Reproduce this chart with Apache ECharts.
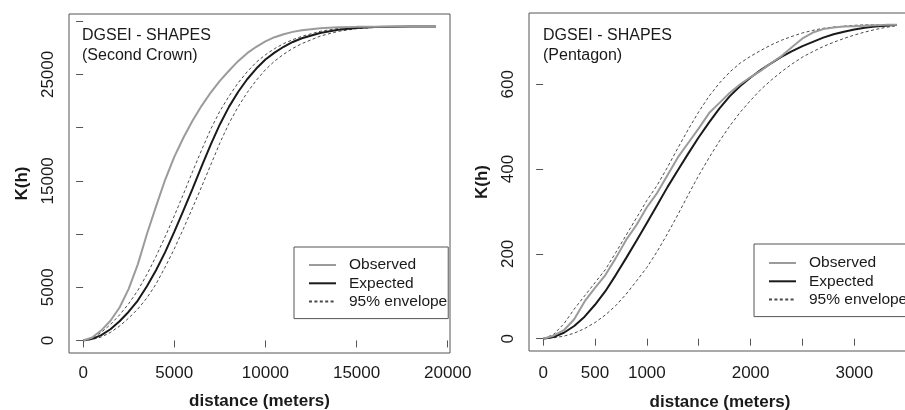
<!DOCTYPE html>
<html>
<head>
<meta charset="utf-8">
<script src="https://cdn.jsdelivr.net/npm/echarts@6/dist/echarts.min.js"></script>
<style>
  html, body { margin: 0; padding: 0; background: #ffffff; }
  #chart { width: 905px; height: 410px; }
</style>
</head>
<body>
<div id="chart"></div>
<script>
// ---------- Left panel: Second Crown ----------
const distL = [0,500,1000,1500,2000,2500,3000,3500,4000,4500,5000,5500,6000,6500,7000,7500,8000,8500,9000,9500,10000,10500,11000,11500,12000,13000,14000,15000,16000,17000,18000,19350];
const observedL = [0,280,950,1850,3100,4850,7150,10000,12600,15100,17250,19050,20650,22050,23300,24400,25350,26250,27000,27600,28100,28500,28780,29000,29150,29340,29430,29470,29490,29500,29500,29500];
const expectedL = [0,150,500,1050,1800,2700,3750,5100,6600,8300,10200,12200,14250,16350,18400,20300,21950,23350,24550,25550,26400,27050,27600,28050,28400,28900,29200,29370,29450,29490,29500,29500];
const upperL = [0,230,760,1500,2400,3450,4700,6200,7900,9750,11700,13750,15850,17900,19850,21550,22950,24200,25250,26150,26850,27420,27900,28270,28580,29050,29330,29450,29490,29500,29500,29500];
const lowerL = [0,90,330,750,1350,2100,2950,4000,5300,6900,8600,10500,12450,14450,16500,18550,20400,21950,23300,24450,25450,26250,26900,27450,27900,28600,29050,29300,29420,29480,29500,29500];
const xTicksL = [0,5000,10000,15000,20000];
const xLabelsL = [0,5000,10000,15000,20000];
const yTicksL = [0,5000,10000,15000,20000,25000,30000];
const yLabelsL = [0,5000,15000,25000];

// ---------- Right panel: Pentagon ----------
const distR = [0,100,200,300,400,500,600,700,800,900,1000,1100,1200,1300,1400,1500,1600,1700,1800,1900,2000,2100,2200,2300,2400,2500,2600,2700,2800,2900,3000,3100,3200,3300,3410];
const observedR = [0,7,20,46,88,120,150,190,233,268,310,344,386,428,462,496,532,556,580,600,617,632,650,667,688,708,722,730,734,736,737,738,739,740,740];
const expectedR = [0,4,14,30,52,80,112,150,190,231,273,315,358,398,437,475,510,543,572,596,616,634,650,665,678,690,700,710,718,724,729,733,736,738,740];
const upperR = [0,10,35,70,101,132,163,203,244,285,326,362,405,450,494,535,572,603,629,650,666,680,693,704,713,721,727,732,735,737,739,740,740,740,740];
const lowerR = [0,2,6,13,24,38,56,78,105,136,168,206,248,293,340,385,427,466,502,534,562,588,610,630,648,664,677,689,699,708,716,723,729,734,738];
const xTicksR = [0,500,1000,1500,2000,2500,3000,3500];
const xLabelsR = [0,500,1000,2000,3000];
const yTicksR = [0,200,400,600];
const yLabelsR = [0,200,400,600];

const titles = ['DGSEI - SHAPES\n(Second Crown)', 'DGSEI - SHAPES\n(Pentagon)'];
const legendNames = ['Observed', 'Expected', '95% envelope'];

const FONT = '"Liberation Sans", Arial, sans-serif';
const TXT = '#1a1a1a';
const FRAME = '#555555';

function pairs(xs, ys) { return xs.map((x, i) => [x, ys[i]]); }
const plain = v => String(v);

function xAxisCfg(gi, min, max, ticks, labels, labelMargin, nameGap) {
  return {
    type: 'value', gridIndex: gi, min: min, max: max,
    name: 'distance (meters)', nameLocation: 'middle', nameGap: nameGap,
    nameTextStyle: { fontFamily: FONT, fontSize: 17, fontWeight: 'bold', color: TXT },
    axisLine: { show: false },
    splitLine: { show: false },
    axisTick: { show: true, length: 7, inside: false, customValues: ticks, lineStyle: { color: FRAME, width: 1 } },
    axisLabel: { show: true, customValues: labels, formatter: plain, margin: labelMargin, fontFamily: FONT, fontSize: 17, color: TXT }
  };
}
function yAxisCfg(gi, min, max, ticks, labels) {
  return {
    type: 'value', gridIndex: gi, min: min, max: max,
    name: 'K(h)', nameLocation: 'middle', nameGap: 38, nameRotate: 90,
    nameTextStyle: { fontFamily: FONT, fontSize: 17, fontWeight: 'bold', color: TXT },
    axisLine: { show: false },
    splitLine: { show: false },
    axisTick: { show: true, length: 7, inside: false, customValues: ticks, lineStyle: { color: FRAME, width: 1 } },
    axisLabel: { show: true, customValues: labels, formatter: plain, rotate: 90, margin: 12, fontFamily: FONT, fontSize: 17, color: TXT }
  };
}

const obsStyle = { color: '#9b9b9b', width: 2 };
const expStyle = { color: '#1a1a1a', width: 2 };
const envStyle = { color: '#4a4a4a', width: 1, type: [3, 2.4] };

function lineSeries(name, gi, data, style, z) {
  return {
    name: name, type: 'line', xAxisIndex: gi, yAxisIndex: gi,
    data: data, symbol: 'none', showSymbol: false,
    smooth: false,
    lineStyle: style, itemStyle: { color: style.color },
    emphasis: { disabled: true }, silent: true, animation: false, z: z
  };
}

function legendCfg(left, top, padTop) {
  return {
    orient: 'vertical', left: left, top: top,
    data: legendNames,
    itemWidth: 27, itemHeight: 14, itemGap: 2.3,
    padding: [padTop, 1, 9, 14],
    borderColor: FRAME, borderWidth: 1, backgroundColor: '#ffffff',
    selectedMode: false,
    itemStyle: { opacity: 0 },
    textStyle: { fontFamily: FONT, fontSize: 15.5, color: TXT, lineHeight: 16, padding: [0, 0, 0, 8] },
    z: 10
  };
}

const gridCommon = { show: true, borderColor: FRAME, borderWidth: 1, backgroundColor: 'transparent', containLabel: false, outerBoundsMode: 'none' };

const option = {
  animation: false,
  backgroundColor: '#ffffff',
  textStyle: { fontFamily: FONT },
  title: [
    { text: titles[0], left: 82, top: 26, padding: 0, textStyle: { fontFamily: FONT, fontSize: 16, fontWeight: 'normal', color: TXT, lineHeight: 20 } },
    { text: titles[1], left: 543, top: 26, padding: 0, textStyle: { fontFamily: FONT, fontSize: 16, fontWeight: 'normal', color: TXT, lineHeight: 20 } }
  ],
  grid: [
    Object.assign({ left: 69, top: 14, width: 381, height: 339 }, gridCommon),
    Object.assign({ left: 529, top: 13, width: 382, height: 338 }, gridCommon)
  ],
  xAxis: [
    xAxisCfg(0, -774, 20124, xTicksL, xLabelsL, 12, 40),
    xAxisCfg(1, -136, 3546, xTicksR, xLabelsR, 14, 43)
  ],
  yAxis: [
    yAxisCfg(0, -1180, 30680, yTicksL, yLabelsL),
    yAxisCfg(1, -29, 768, yTicksR, yLabelsR)
  ],
  legend: [
    legendCfg(294, 247, 10),
    legendCfg(754, 244, 11)
  ],
  series: [
    lineSeries('95% envelope', 0, pairs(distL, upperL), envStyle, 2),
    lineSeries('95% envelope', 0, pairs(distL, lowerL), envStyle, 2),
    lineSeries('Expected', 0, pairs(distL, expectedL), expStyle, 3),
    lineSeries('Observed', 0, pairs(distL, observedL), obsStyle, 4),
    lineSeries('95% envelope', 1, pairs(distR, upperR), envStyle, 2),
    lineSeries('95% envelope', 1, pairs(distR, lowerR), envStyle, 2),
    lineSeries('Expected', 1, pairs(distR, expectedR), expStyle, 3),
    lineSeries('Observed', 1, pairs(distR, observedR), obsStyle, 4)
  ]
};
const chart = echarts.init(document.getElementById('chart'), null, { renderer: 'canvas' });
chart.setOption(option);
</script>
</body>
</html>
